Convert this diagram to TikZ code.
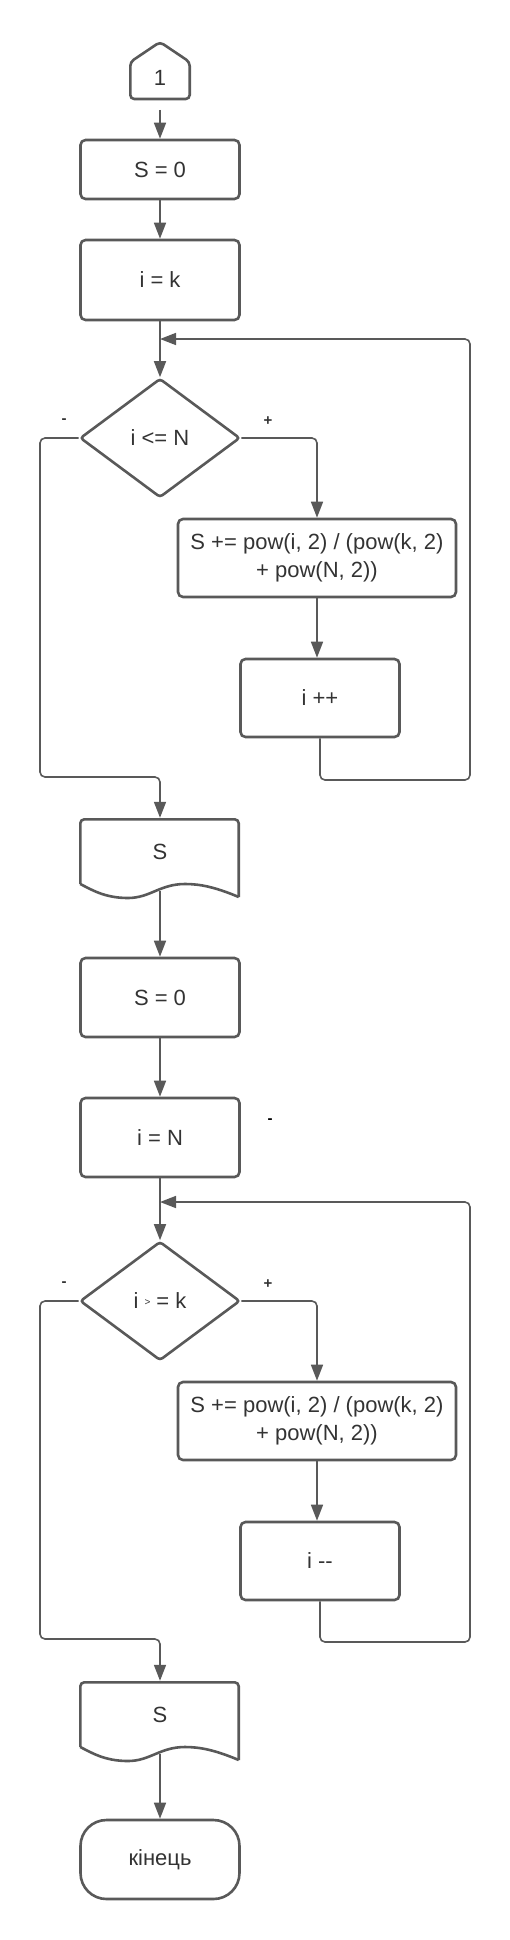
\documentclass[tikz,border=0pt]{standalone}
\usepackage{fontspec}
\setmainfont{Liberation Sans}
\usetikzlibrary{arrows.meta,shapes.geometric}
\definecolor{lc}{HTML}{595959}
\definecolor{tc}{HTML}{333333}
\newcommand\mfsz{\fontsize{22}{27.5}\selectfont}
\newcommand\lfsz{\fontsize{15}{16}\selectfont\bfseries}
\tikzset{
  shp/.style={draw=lc, line width=2.6pt, text=tc, font=\mfsz, inner sep=0pt, align=center},
  proc/.style={shp, rounded corners=5pt, minimum width=159pt},
  dec/.style={shp, diamond, rounded corners=3pt, minimum width=160pt, minimum height=119pt},
  conn/.style={draw=lc, line width=1.6pt, rounded corners=5pt, -{Triangle[length=16pt,width=12pt]}},
  lbl/.style={text=tc, font=\lfsz, inner sep=0pt},
}
\begin{document}
\begin{tikzpicture}[x=1pt,y=-1pt]
\useasboundingbox (0,0) rectangle (510,1940);
% off-page connector
\draw[draw=lc, line width=2.6pt, rounded corners=4pt] (130.3,99) -- (130.3,62) -- (160,42) -- (189.7,62) -- (189.7,99) -- cycle;
\node[text=tc, font=\mfsz, inner sep=0pt] (one) at (160,78) {1};
\coordinate (p0) at (160,110);
% first block
\node[proc, minimum height=59pt] (s0a) at (160,169.5) {S = 0};
\node[proc, minimum height=80pt] (ik) at (160,280) {i = k};
\node[dec] (d1) at (160,438) {i <= N};
\node[proc, minimum width=278pt, minimum height=78pt] (b1) at (317,558) {S += pow(i, 2) / (pow(k, 2)\\+ pow(N, 2))};
\node[proc, minimum height=78pt] (ipp) at (320,698) {i ++};
% output 1
\node[text=tc, font=\mfsz, minimum width=159pt, minimum height=67pt, inner sep=0pt] (doc1) at (160,851.5) {S};
\draw[draw=lc, line width=2.6pt, rounded corners=4pt] (80.3,884) -- (80.3,819.3) -- (238.7,819.3) -- (238.7,897);
\draw[draw=lc, line width=2.6pt] (238.7,897) .. controls (215,887) and (200,884) .. (185,884) .. controls (160,884) and (150,898) .. (128,898) .. controls (105,898) and (92,890) .. (80.3,884);
\coordinate (doc1b) at (160,891);
% second block
\node[proc, minimum height=79pt] (s0b) at (160,997.5) {S = 0};
\node[proc, minimum height=79pt] (iN) at (160,1137.5) {i = N};
\node[dec] (d2) at (160,1301) {i {\fontsize{10}{10}\selectfont\raisebox{3pt}{>}} = k};
\node[proc, minimum width=278pt, minimum height=78pt] (b2) at (317,1421) {S += pow(i, 2) / (pow(k, 2)\\+ pow(N, 2))};
\node[proc, minimum height=78pt] (imm) at (320,1561) {i -{}-};
% output 2
\node[text=tc, font=\mfsz, minimum width=159pt, minimum height=67pt, inner sep=0pt] (doc2) at (160,1714.5) {S};
\draw[draw=lc, line width=2.6pt, rounded corners=4pt] (80.3,1747) -- (80.3,1682.3) -- (238.7,1682.3) -- (238.7,1760);
\draw[draw=lc, line width=2.6pt] (238.7,1760) .. controls (215,1750) and (200,1747) .. (185,1747) .. controls (160,1747) and (150,1761) .. (128,1761) .. controls (105,1761) and (92,1753) .. (80.3,1747);
\coordinate (doc2b) at (160,1754);
% terminal
\node[proc, rounded corners=26pt, minimum height=79pt] (fin) at (160,1859.5) {кінець};
% labels
\node[lbl] (m1) at (64,421) {-};
\node[lbl] (p1) at (268,421) {+};
\node[lbl] (m2) at (64,1284) {-};
\node[lbl] (p2) at (268,1284) {+};
\node[lbl, text=black] (stray) at (270,1121) {-};
% helper coordinates
\coordinate (j1) at (160,339);
\coordinate (j2) at (160,1202);
% connectors, block 1
\draw[conn] (p0) -- (s0a.north);
\draw[conn] (s0a.south) -- (ik.north);
\draw[conn] (ik.south) -- (d1.north);
\draw[conn] (d1.east) -- (317,438) -- (b1.north);
\draw[conn] (b1.south) -- (b1.south |- ipp.north);
\draw[conn] (ipp.south) -- (320,780) -- (470,780) -- (470,339) -- (j1);
\draw[conn] (d1.west) -- (40,438) -- (40,777) -- (160,777) -- (doc1.north);
% block 2
\draw[conn] (doc1b) -- (s0b.north);
\draw[conn] (s0b.south) -- (iN.north);
\draw[conn] (iN.south) -- (d2.north);
\draw[conn] (d2.east) -- (317,1301) -- (b2.north);
\draw[conn] (b2.south) -- (b2.south |- imm.north);
\draw[conn] (imm.south) -- (320,1642) -- (470,1642) -- (470,1202) -- (j2);
\draw[conn] (d2.west) -- (40,1301) -- (40,1639) -- (160,1639) -- (doc2.north);
\draw[conn] (doc2b) -- (fin.north);
\end{tikzpicture}
\end{document}
